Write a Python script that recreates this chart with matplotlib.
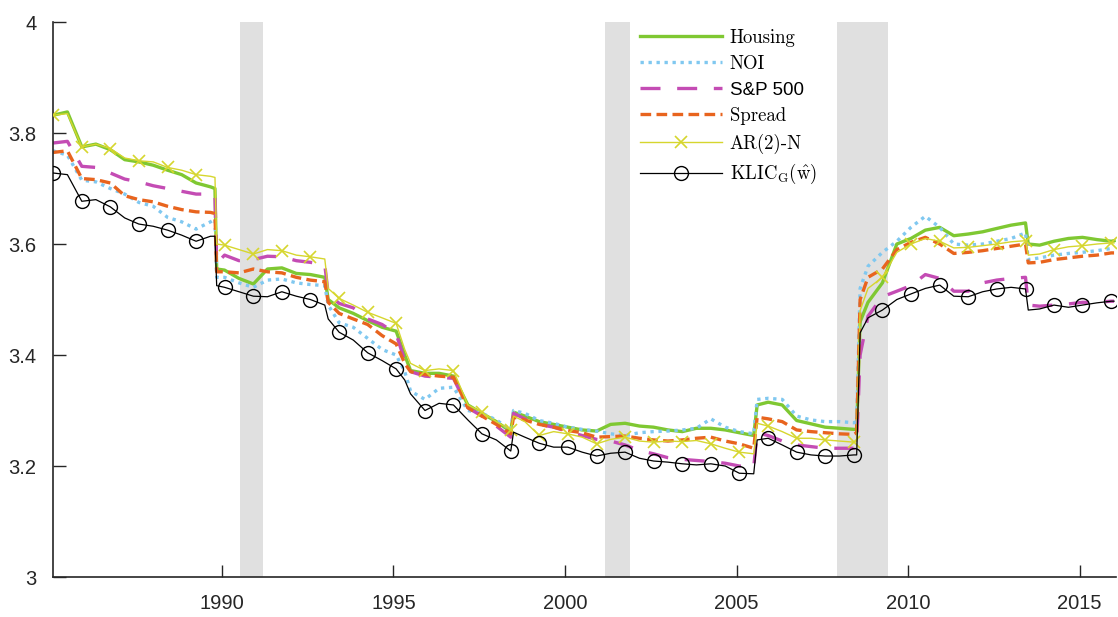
import matplotlib
matplotlib.use('Agg')
import matplotlib.pyplot as plt
import numpy as np

plt.rcParams['mathtext.fontset'] = 'cm'

# decimal years (monthly data, every 5 months + jumps)
years = [1985.08, 1985.50, 1985.92, 1986.33, 1986.75, 1987.17, 1987.58, 1988.00, 1988.42, 1988.83,
         1989.25, 1989.67, 1989.80, 1989.85, 1990.08, 1990.50, 1990.92, 1991.33, 1991.75, 1992.17,
         1992.58, 1993.00, 1993.10, 1993.42, 1993.83, 1994.25, 1994.67, 1995.08, 1995.33, 1995.50,
         1995.92, 1996.33, 1996.75, 1997.17, 1997.58, 1998.00, 1998.42, 1998.50, 1998.83, 1999.25,
         1999.67, 2000.08, 2000.50, 2000.92, 2001.33, 2001.75, 2002.17, 2002.58, 2003.00, 2003.42,
         2003.83, 2004.25, 2004.67, 2005.08, 2005.50, 2005.60, 2005.92, 2006.33, 2006.75, 2007.17,
         2007.58, 2008.00, 2008.42, 2008.50, 2008.60, 2008.83, 2009.25, 2009.67, 2010.08, 2010.50,
         2010.92, 2011.33, 2011.75, 2012.17, 2012.58, 2013.00, 2013.42, 2013.50, 2013.83, 2014.25,
         2014.67, 2015.08, 2015.50, 2015.92, 2016.00]

housing = [3.832, 3.838, 3.775, 3.780, 3.770, 3.752, 3.748, 3.742, 3.733, 3.725,
           3.710, 3.703, 3.700, 3.555, 3.553, 3.538, 3.528, 3.555, 3.557, 3.547,
           3.545, 3.540, 3.500, 3.485, 3.475, 3.462, 3.450, 3.443, 3.400, 3.372,
           3.367, 3.367, 3.362, 3.310, 3.295, 3.280, 3.262, 3.297, 3.290, 3.280,
           3.275, 3.270, 3.265, 3.263, 3.275, 3.277, 3.272, 3.270, 3.265, 3.262,
           3.268, 3.268, 3.265, 3.260, 3.255, 3.310, 3.315, 3.310, 3.282, 3.276,
           3.270, 3.268, 3.266, 3.266, 3.460, 3.495, 3.530, 3.600, 3.610, 3.625,
           3.630, 3.615, 3.618, 3.622, 3.628, 3.634, 3.638, 3.600, 3.598, 3.605,
           3.610, 3.612, 3.608, 3.605, 3.606]

noi = [3.768, 3.760, 3.715, 3.712, 3.700, 3.690, 3.675, 3.668, 3.648, 3.640,
       3.627, 3.640, 3.645, 3.540, 3.540, 3.530, 3.522, 3.535, 3.537, 3.530,
       3.527, 3.525, 3.490, 3.458, 3.450, 3.430, 3.410, 3.400, 3.370, 3.335,
       3.320, 3.340, 3.342, 3.300, 3.295, 3.283, 3.265, 3.300, 3.295, 3.282,
       3.277, 3.270, 3.266, 3.263, 3.258, 3.255, 3.260, 3.262, 3.263, 3.265,
       3.268, 3.285, 3.270, 3.262, 3.258, 3.320, 3.322, 3.320, 3.290, 3.283,
       3.280, 3.280, 3.278, 3.280, 3.520, 3.560, 3.585, 3.605, 3.630, 3.650,
       3.630, 3.600, 3.598, 3.600, 3.605, 3.610, 3.620, 3.572, 3.575, 3.580,
       3.583, 3.585, 3.588, 3.592, 3.592]

sp500 = [3.782, 3.785, 3.740, 3.738, 3.728, 3.717, 3.712, 3.705, 3.700, 3.695,
         3.690, 3.690, 3.688, 3.565, 3.580, 3.570, 3.572, 3.578, 3.577, 3.570,
         3.567, 3.563, 3.510, 3.493, 3.485, 3.465, 3.455, 3.438, 3.390, 3.370,
         3.362, 3.360, 3.358, 3.305, 3.290, 3.272, 3.252, 3.295, 3.285, 3.275,
         3.270, 3.262, 3.255, 3.248, 3.245, 3.238, 3.228, 3.222, 3.215, 3.212,
         3.210, 3.208, 3.205, 3.200, 3.198, 3.260, 3.255, 3.245, 3.238, 3.235,
         3.232, 3.232, 3.232, 3.240, 3.400, 3.470, 3.505, 3.515, 3.525, 3.545,
         3.538, 3.515, 3.515, 3.530, 3.535, 3.538, 3.540, 3.490, 3.488, 3.490,
         3.492, 3.495, 3.495, 3.497, 3.497]

spread = [3.765, 3.768, 3.718, 3.716, 3.710, 3.687, 3.680, 3.676, 3.668, 3.662,
          3.658, 3.657, 3.655, 3.550, 3.550, 3.548, 3.555, 3.550, 3.548, 3.540,
          3.535, 3.532, 3.495, 3.475, 3.465, 3.455, 3.435, 3.420, 3.385, 3.370,
          3.365, 3.362, 3.360, 3.305, 3.290, 3.275, 3.258, 3.288, 3.283, 3.275,
          3.270, 3.264, 3.260, 3.252, 3.253, 3.254, 3.250, 3.247, 3.245, 3.247,
          3.250, 3.252, 3.245, 3.240, 3.232, 3.288, 3.285, 3.280, 3.265, 3.262,
          3.260, 3.258, 3.257, 3.260, 3.500, 3.540, 3.555, 3.590, 3.603, 3.612,
          3.600, 3.583, 3.585, 3.588, 3.592, 3.596, 3.600, 3.566, 3.567, 3.572,
          3.575, 3.578, 3.580, 3.584, 3.584]

ar2n = [3.832, 3.835, 3.775, 3.780, 3.772, 3.755, 3.750, 3.748, 3.738, 3.733,
        3.725, 3.722, 3.720, 3.600, 3.598, 3.590, 3.582, 3.590, 3.588, 3.580,
        3.577, 3.573, 3.520, 3.502, 3.490, 3.477, 3.467, 3.457, 3.410, 3.385,
        3.372, 3.375, 3.372, 3.310, 3.297, 3.280, 3.265, 3.290, 3.280, 3.255,
        3.262, 3.258, 3.252, 3.240, 3.248, 3.252, 3.245, 3.243, 3.245, 3.244,
        3.246, 3.240, 3.232, 3.225, 3.222, 3.277, 3.272, 3.262, 3.250, 3.250,
        3.247, 3.245, 3.243, 3.245, 3.480, 3.520, 3.540, 3.585, 3.600, 3.610,
        3.605, 3.593, 3.594, 3.597, 3.600, 3.604, 3.606, 3.580, 3.582, 3.590,
        3.595, 3.597, 3.600, 3.602, 3.602]

klic = [3.728, 3.725, 3.677, 3.680, 3.667, 3.647, 3.636, 3.632, 3.625, 3.616,
        3.605, 3.614, 3.614, 3.525, 3.522, 3.514, 3.506, 3.505, 3.514, 3.506,
        3.500, 3.490, 3.465, 3.441, 3.427, 3.404, 3.390, 3.375, 3.355, 3.330,
        3.300, 3.313, 3.310, 3.283, 3.258, 3.247, 3.227, 3.261, 3.252, 3.241,
        3.234, 3.234, 3.225, 3.218, 3.223, 3.225, 3.214, 3.209, 3.207, 3.204,
        3.202, 3.204, 3.200, 3.187, 3.186, 3.247, 3.250, 3.238, 3.225, 3.220,
        3.218, 3.218, 3.220, 3.220, 3.440, 3.467, 3.481, 3.500, 3.510, 3.520,
        3.526, 3.506, 3.505, 3.514, 3.519, 3.522, 3.519, 3.481, 3.483, 3.490,
        3.486, 3.490, 3.494, 3.497, 3.497]

recessions = [(1990.54, 1991.21), (2001.17, 2001.88), (2007.92, 2009.42)]

t = np.array(years)
months = np.round((t - t[0]) * 12).astype(int)
mk = list(np.where(months % 10 == 0)[0])

fig = plt.figure(figsize=(11.18, 6.17), dpi=100)
ax = fig.add_axes([0.0474, 0.0648, 0.9506, 0.8995])

for a, b in recessions:
    ax.axvspan(a, b, color='#e0e0e0', lw=0, zorder=0)

ax.plot(t, housing, color='#7fc832', lw=2.4, label='Housing', zorder=2)
ax.plot(t, noi, color='#80c8f0', lw=2.4, ls=(0, (1, 1.4)), label='NOI', zorder=2)
ax.plot(t, sp500, color='#c44cb4', lw=2.4, ls=(0, (6, 5)), label='S&P 500', zorder=2)
ax.plot(t, spread, color='#e8641e', lw=2.4, ls=(0, (3.2, 1.6)), label='Spread', zorder=2)
ax.plot(t, ar2n, color='#d6d62e', lw=1.0, marker='x', ms=8, mew=1.2, markevery=mk,
        label='AR(2)-N', zorder=3)
ax.plot(t, klic, color='black', lw=0.9, marker='o', ms=10, mfc='none', mew=1.0, markevery=mk,
        label=r'KLIC$_{\mathrm{G}}(\hat{\mathrm{w}})$', zorder=4)

ax.set_xlim(1985.08, 2016.05)
ax.set_ylim(3, 4)
ax.set_xticks([1990, 1995, 2000, 2005, 2010, 2015])
ax.set_yticks([3, 3.2, 3.4, 3.6, 3.8, 4])
ax.set_yticklabels(['3', '3.2', '3.4', '3.6', '3.8', '4'])
ax.tick_params(direction='in', length=9, width=1.0, colors='#262626', labelsize=14.5, pad=12)
for lab in ax.get_xticklabels() + ax.get_yticklabels():
    lab.set_family('Liberation Sans')
for s in ['top', 'right']:
    ax.spines[s].set_visible(False)
for s in ['left', 'bottom']:
    ax.spines[s].set_linewidth(1.2)
    ax.spines[s].set_color('#262626')

leg = ax.legend(loc='upper left', bbox_to_anchor=(0.552, 0.988), frameon=False,
                prop={'family': 'cmr10', 'size': 13.5}, handlelength=4.4, handletextpad=0.4,
                labelspacing=0.45, borderpad=0, borderaxespad=0)
leg.get_texts()[2].set_family('Liberation Sans')

fig.savefig('out.png', dpi=100)
